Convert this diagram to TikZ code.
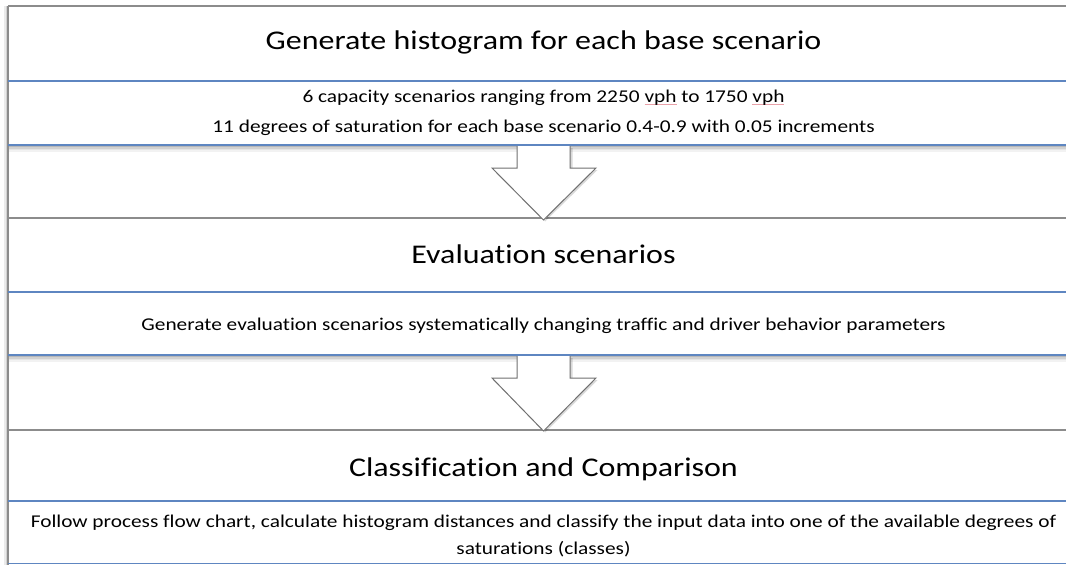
\documentclass[tikz,border=0pt]{standalone}
\usepackage{fontspec}
\setmainfont{Carlito}[Ligatures=NoCommon]
\usetikzlibrary{calc}
\definecolor{rulegray}{HTML}{8C8C8C}
\definecolor{ruleblue}{HTML}{5E86C1}
\definecolor{spellred}{HTML}{E8A0A8}
% red spell-check underline under a word
\newcommand\spellmark[1]{\setbox0\hbox{#1}\rlap{\textcolor{spellred}{\rule[-2.5pt]{\wd0}{0.6pt}}}\box0\relax}
% widened lettering used throughout the chart
\newcommand\wide[1]{\scalebox{1.185}[1]{#1}}
\tikzset{
  x=1pt, y=-1pt,
  headtext/.style={anchor=base, font=\fontsize{27}{32}\selectfont, inner sep=0pt},
  bodytext/.style={anchor=base, font=\fontsize{18}{28}\selectfont, inner sep=0pt},
  grayrule/.style={draw=rulegray, line width=1.6pt},
  bluerule/.style={draw=ruleblue, line width=1.6pt},
  blockarrow/.style={draw=rulegray!80!black, line width=1pt, fill=white, line join=miter},
}
\begin{document}
\begin{tikzpicture}
\useasboundingbox (0,0) rectangle (1066,565);

% soft shadows under the description panels and along the frame
\foreach \y in {145,355}{
  \foreach \d/\o in {1.5/0.28,3/0.18,4.5/0.10,6/0.05}{
    \fill[black, opacity=\o] (8,\y+\d-0.8) rectangle (1066,\y+\d+0.8);
  }
}
\foreach \d/\o in {1.5/0.18,3/0.08}{
  \fill[black, opacity=\o] (8-\d-0.6,6) rectangle (8-\d+0.6,565);
}

% panel rules
\draw[grayrule] (8,6) -- (1066,6);
\draw[grayrule] (8,6) -- (8,565);
\draw[bluerule] (8,81) -- (1066,81);
\draw[bluerule] (8,145) -- (1066,145);
\draw[grayrule] (8,218) -- (1066,218);
\draw[bluerule] (8,292) -- (1066,292);
\draw[bluerule] (8,355) -- (1066,355);
\draw[grayrule] (8,430) -- (1066,430);
\draw[bluerule] (8,501) -- (1066,501);
\draw[bluerule] (8,563.5) -- (1066,563.5);

% step 1
\node[headtext] (h1) at (543.5,49) {\wide{Generate histogram for each base scenario}};
\node[bodytext] (b1a) at (543.5,102) {\wide{6 capacity scenarios ranging from 2250 \spellmark{vph} to 1750 \spellmark{vph}}};
\node[bodytext] (b1b) at (543.5,132) {\wide{11 degrees of saturation for each base scenario 0.4-0.9 with 0.05 increments}};

% step 2
\node[headtext] (h2) at (543.5,263) {\wide{Evaluation scenarios}};
\node[bodytext] (b2) at (543.5,330) {\wide{Generate evaluation scenarios systematically changing traffic and driver behavior parameters}};

% step 3
\node[headtext] (h3) at (543.5,476) {\wide{Classification and Comparison}};
\node[bodytext] (b3a) at (543.5,527) {\wide{Follow process flow chart, calculate histogram distances and classify the input data into one of the available degrees of}};
\node[bodytext] (b3b) at (543.5,554) {\wide{saturations (classes)}};

% block arrows between the steps
\coordinate (a1top) at (543.5,146);
\coordinate (a1tip) at (543.5,220);
\coordinate (a2top) at (543.5,356);
\coordinate (a2tip) at (543.5,431);
\foreach \t/\p in {a1top/a1tip,a2top/a2tip}{
  \fill[black, opacity=0.15] ($(\t)+(-25,2)$) -- ($(\t)+(-25,24)$) -- ($(\t)+(-50,24)$) -- ($(\p)+(1.5,1.5)$) -- ($(\t)+(54,24)$) -- ($(\t)+(29,24)$) -- ($(\t)+(29,2)$) -- cycle;
  \fill[white] ($(\t)+(-26.5,0)$) -- ($(\t)+(-26.5,22)$) -- ($(\t)+(-51.5,22)$) -- (\p) -- ($(\t)+(52.5,22)$) -- ($(\t)+(26.5,22)$) -- ($(\t)+(26.5,0)$) -- cycle;
  \draw[blockarrow] ($(\t)+(-26.5,0)$) -- ($(\t)+(-26.5,22)$) -- ($(\t)+(-51.5,22)$) -- (\p) -- ($(\t)+(52.5,22)$) -- ($(\t)+(26.5,22)$) -- ($(\t)+(26.5,0)$);
}
\end{tikzpicture}
\end{document}
